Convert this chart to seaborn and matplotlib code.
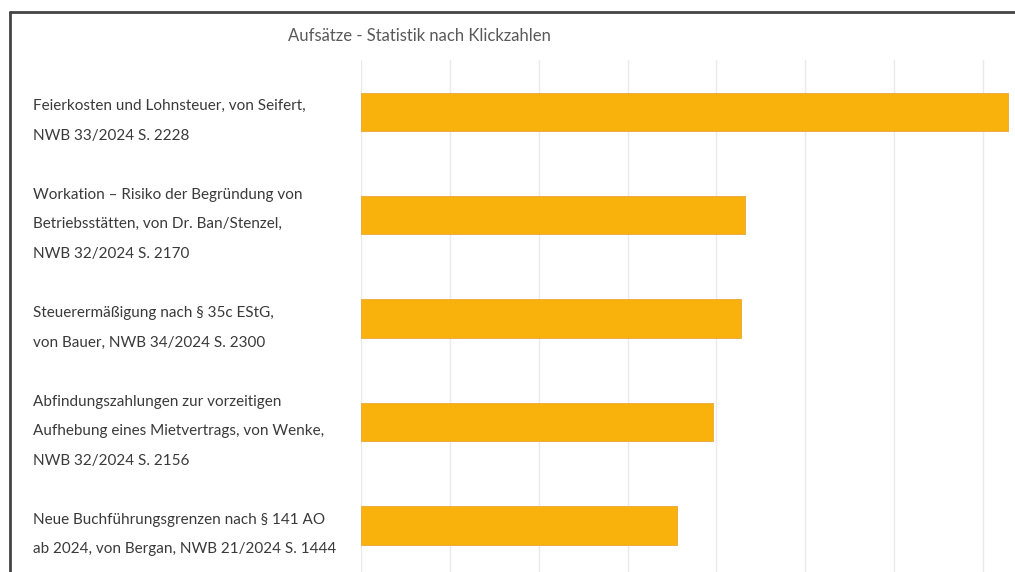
import numpy as np
import pandas as pd
import matplotlib
matplotlib.use("Agg")
import matplotlib.pyplot as plt
from matplotlib.lines import Line2D
import seaborn as sns

### Data
titel = [
    "Feierkosten und Lohnsteuer, von Seifert,\nNWB 33/2024 S. 2228",
    "Workation \u2013 Risiko der Begr\u00fcndung von\nBetriebsst\u00e4tten, von Dr. Ban/Stenzel,\nNWB 32/2024 S. 2170",
    "Steuererm\u00e4\u00dfigung nach \u00a7 35c EStG,\nvon Bauer, NWB 34/2024 S. 2300",
    "Abfindungszahlungen zur vorzeitigen\nAufhebung eines Mietvertrags, von Wenke,\nNWB 32/2024 S. 2156",
    "Neue Buchf\u00fchrungsgrenzen nach \u00a7 141 AO\nab 2024, von Bergan, NWB 21/2024 S. 1444",
]
klicks = [364, 216, 214, 198, 178]
x_ticks = [0, 50, 100, 150, 200, 250, 300, 350]
chart_title = "Aufs\u00e4tze - Statistik nach Klickzahlen"

df = pd.DataFrame({"titel": titel, "klicks": klicks})

#%% Plot
sns.set_theme(style="white")
plt.rcParams["font.family"] = ["Lato", "DejaVu Sans"]

W, H = 1015, 572
fig = plt.figure(figsize=(W / 100, H / 100), dpi=100)
fig.patch.set_facecolor("white")

# axes in pixel coords: left 361, top 60, bottom at image edge
left, right, top, bottom = 361, 1015, 60, 572
ax = fig.add_axes([left / W, 1 - bottom / H, (right - left) / W, (bottom - top) / H])

sns.barplot(x="klicks", y="titel", data=df, color="#F9B10B", saturation=1, width=0.37,
            edgecolor="#EBA53A", linewidth=0.6, ax=ax, zorder=3)

ax.set_xlim(0, 368)
ax.set_ylim(4.45, -0.5)
ax.set_xticks(x_ticks)
ax.set_xticklabels([])
ax.grid(axis="x", color="#EAEAEA", linewidth=1, zorder=0)
ax.grid(axis="y", visible=False)
for s in ax.spines.values():
    s.set_visible(False)
ax.set_xlabel("")
ax.set_ylabel("")
ax.tick_params(axis="both", length=0)
ax.tick_params(axis="y", pad=(left - 33) * 0.72)
for lbl in ax.get_yticklabels():
    lbl.set_horizontalalignment("left")
    lbl.set_fontsize(11)
    lbl.set_color("#3A3A3A")
    lbl.set_linespacing(2.4)

fig.text(419 / W, 1 - 36 / H, chart_title, ha="center", va="center",
         fontsize=12, color="#595959")

# frame lines of the screenshot
fig.add_artist(Line2D([10 / W, 1], [1 - 12 / H, 1 - 12 / H], color="#444444", linewidth=2))
fig.add_artist(Line2D([10 / W, 10 / W], [0, 1 - 12 / H], color="#444444", linewidth=2))

plt.savefig("out.png", dpi=100)
